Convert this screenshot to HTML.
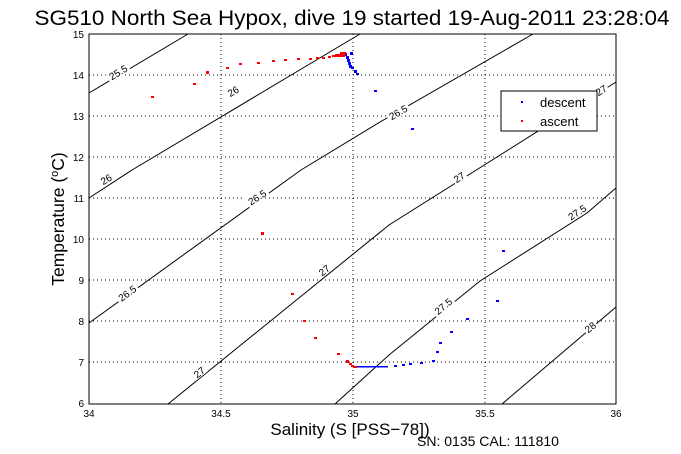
<!DOCTYPE html>
<html><head><style>body{margin:0;background:#fff}svg{display:block}text{font-family:"Liberation Sans",Arial,sans-serif}</style></head>
<body>
<svg width="681" height="454" xmlns="http://www.w3.org/2000/svg">
<rect width="681" height="454" fill="#fff"/>
<g stroke="#000" stroke-width="1" stroke-dasharray="1,3" fill="none">
<line x1="221" y1="34" x2="221" y2="404"/><line x1="353" y1="34" x2="353" y2="404"/><line x1="485" y1="34" x2="485" y2="404"/>
<line x1="89" y1="75" x2="616" y2="75"/><line x1="89" y1="116" x2="616" y2="116"/><line x1="89" y1="157" x2="616" y2="157"/>
<line x1="89" y1="198" x2="616" y2="198"/><line x1="89" y1="239" x2="616" y2="239"/><line x1="89" y1="280" x2="616" y2="280"/>
<line x1="89" y1="321" x2="616" y2="321"/><line x1="89" y1="362" x2="616" y2="362"/>
</g>
<g stroke="#000" stroke-width="1" fill="none">
<polyline points="89,93 188,34"/>
<polyline points="89,198 132,170 360,34"/>
<polyline points="89,323 301,170 380,122 533,34"/>
<polyline points="168,404 389,225 616,82"/>
<polyline points="335,404 389,355 480,281 587,213 616,188"/>
<polyline points="502,404 616,307"/>
</g>
<g font-size="10" text-anchor="middle">
<g transform="translate(118,72) rotate(-31)"><rect x="-12" y="-6" width="24" height="11" fill="#fff"/><text y="4">25.5</text></g>
<g transform="translate(233,91) rotate(-31)"><rect x="-7" y="-6" width="14" height="11" fill="#fff"/><text y="4">26</text></g>
<g transform="translate(106,179) rotate(-31)"><rect x="-7" y="-6" width="14" height="11" fill="#fff"/><text y="4">26</text></g>
<g transform="translate(257,197) rotate(-33)"><rect x="-12" y="-6" width="24" height="11" fill="#fff"/><text y="4">26.5</text></g>
<g transform="translate(127,293) rotate(-36)"><rect x="-12" y="-6" width="24" height="11" fill="#fff"/><text y="4">26.5</text></g>
<g transform="translate(398,112) rotate(-30)"><rect x="-12" y="-6" width="24" height="11" fill="#fff"/><text y="4">26.5</text></g>
<g transform="translate(199,372) rotate(-39)"><rect x="-7" y="-6" width="14" height="11" fill="#fff"/><text y="4">27</text></g>
<g transform="translate(324,270) rotate(-39)"><rect x="-7" y="-6" width="14" height="11" fill="#fff"/><text y="4">27</text></g>
<g transform="translate(459,177) rotate(-33)"><rect x="-7" y="-6" width="14" height="11" fill="#fff"/><text y="4">27</text></g>
<g transform="translate(601,90) rotate(-32)"><rect x="-7" y="-6" width="14" height="11" fill="#fff"/><text y="4">27</text></g>
<g transform="translate(443,306) rotate(-40)"><rect x="-12" y="-6" width="24" height="11" fill="#fff"/><text y="4">27.5</text></g>
<g transform="translate(577,212) rotate(-33)"><rect x="-12" y="-6" width="24" height="11" fill="#fff"/><text y="4">27.5</text></g>
<g transform="translate(590,327) rotate(-40)"><rect x="-7" y="-6" width="14" height="11" fill="#fff"/><text y="4">28</text></g>
</g>
<g fill="#00f">
<rect x="344" y="53" width="3" height="3"/><rect x="346" y="56" width="3" height="3"/><rect x="347" y="59" width="3" height="3"/><rect x="348" y="62" width="3" height="3"/><rect x="349" y="65" width="3" height="3"/><rect x="350" y="52" width="3" height="3"/><rect x="351" y="67" width="3" height="2"/><rect x="354" y="70" width="3" height="3"/><rect x="356" y="73" width="3" height="2"/><rect x="374" y="90" width="3" height="2"/><rect x="411" y="128" width="3" height="2"/><rect x="502" y="250" width="3" height="2"/><rect x="496" y="300" width="3" height="2"/>
<rect x="466" y="318" width="3" height="2"/><rect x="450" y="331" width="3" height="2"/><rect x="439" y="342" width="3" height="2"/><rect x="436" y="351" width="3" height="2"/><rect x="432" y="360" width="3" height="2"/><rect x="420" y="362" width="3" height="2"/><rect x="409" y="363" width="3" height="2"/><rect x="402" y="364" width="3" height="2"/><rect x="394" y="365" width="3" height="2"/>
<rect x="356" y="366" width="32" height="1.5"/>
</g>
<g fill="#f00">
<rect x="151" y="96" width="3" height="2"/><rect x="193" y="83" width="3" height="2"/><rect x="206" y="71" width="3" height="3"/><rect x="226" y="67" width="3" height="2"/><rect x="239" y="63" width="3" height="2"/><rect x="257" y="62" width="3" height="2"/><rect x="272" y="60" width="3" height="2"/><rect x="284" y="59" width="3" height="2"/><rect x="297" y="58" width="3" height="2"/><rect x="309" y="58" width="3" height="2"/><rect x="316" y="57" width="3" height="2"/><rect x="322" y="57" width="3" height="2"/><rect x="328" y="56" width="3" height="2"/><rect x="332" y="55" width="3" height="2"/><rect x="335" y="54" width="10" height="3"/><rect x="340" y="52" width="6" height="3"/>
<rect x="261" y="232" width="3" height="3"/><rect x="291" y="293" width="3" height="2"/><rect x="303" y="320" width="3" height="2"/><rect x="314" y="337" width="3" height="2"/><rect x="337" y="353" width="3" height="2"/><rect x="346" y="360" width="3" height="3"/><rect x="349" y="363" width="3" height="2"/><rect x="351" y="365" width="3" height="2"/><rect x="353" y="366" width="4" height="2"/>
</g>
<rect x="501" y="91" width="96" height="40" fill="#fff" stroke="#000"/>
<rect x="521" y="101" width="2" height="2" fill="#00f"/><rect x="521" y="120" width="2" height="2" fill="#f00"/>
<text x="540" y="107" font-size="13">descent</text>
<text x="540" y="126" font-size="13">ascent</text>
<rect x="89" y="34" width="527" height="370" fill="none" stroke="#000"/>
<g font-size="10" text-anchor="end">
<text x="84" y="38">15</text><text x="84" y="79">14</text><text x="84" y="120">13</text><text x="84" y="161">12</text><text x="84" y="202">11</text><text x="84" y="243">10</text><text x="84" y="284">9</text><text x="84" y="325">8</text><text x="84" y="366">7</text><text x="84" y="407">6</text>
</g>
<g font-size="10" text-anchor="middle">
<text x="89" y="417">34</text><text x="221" y="417">34.5</text><text x="353" y="417">35</text><text x="485" y="417">35.5</text><text x="616" y="417">36</text>
</g>
<text x="352" y="25" font-size="21.5" text-anchor="middle" textLength="635" lengthAdjust="spacingAndGlyphs">SG510 North Sea Hypox, dive 19 started 19-Aug-2011 23:28:04</text>
<text x="350" y="435" font-size="17" text-anchor="middle">Salinity (S [PSS−78])</text>
<text x="488" y="446" font-size="14" text-anchor="middle">SN: 0135  CAL: 111810</text>
<text transform="translate(64,219) rotate(-90)" font-size="17.5" text-anchor="middle">Temperature (<tspan font-size="11" dy="-6">o</tspan><tspan dy="6">C)</tspan></text>
</svg>
</body></html>
